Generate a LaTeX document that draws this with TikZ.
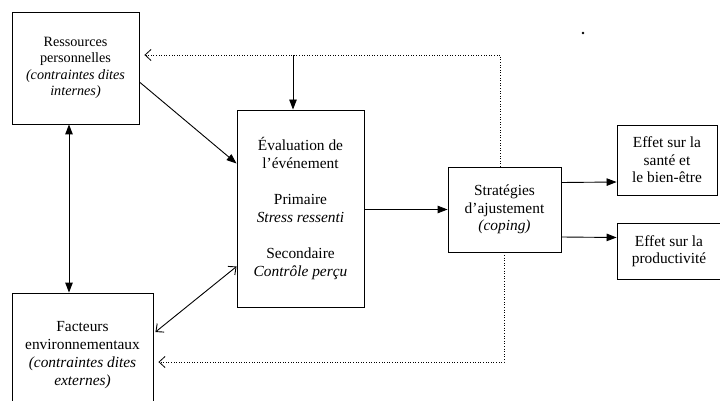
\documentclass[tikz,border=0pt]{standalone}
\usepackage{fontspec}
\setmainfont{Liberation Serif}
\usetikzlibrary{arrows.meta,calc}
\begin{document}
\begin{tikzpicture}[x=1pt,y=-1pt,
  box/.style={draw,line width=0.9pt,inner sep=0pt,align=center,font=\fontsize{15.4}{18}\selectfont},
  solid arrow/.style={line width=0.9pt,-{Triangle[length=10pt,width=7.5pt]}},
  dotline/.style={line width=0.6pt,dotted,-{Straight Barb[length=6pt,width=11pt,line width=0.8pt]}}]
\useasboundingbox (0,0) rectangle (720,401);
\clip (0,0) rectangle (720,401);
\node[box,minimum width=127pt,minimum height=112pt,font=\fontsize{14.2}{16.4}\selectfont] (res) at (75.5,68)
  {Ressources\\personnelles\\\textit{(contraintes dites}\\\textit{internes)}};
\node[box,minimum width=127pt,minimum height=197pt] (eval) at (300.5,208.5)
  {Évaluation de\\l’événement\\[18pt]Primaire\\\textit{Stress ressenti}\\[18pt]Secondaire\\\textit{Contrôle perçu}};
\node[box,minimum width=141pt,minimum height=124pt] (fact) at (82.5,355)
  {Facteurs\\environnementaux\\\textit{(contraintes dites}\\\textit{externes)}};
\node[box,minimum width=113pt,minimum height=85pt,font=\fontsize{15.4}{17.5}\selectfont] (strat) at (504.5,209.5)
  {Stratégies\\d’ajustement\\\textit{(coping)}};
\node[box,minimum width=100pt,minimum height=70pt,font=\fontsize{15.4}{17.5}\selectfont] (sante) at (667,160)
  {Effet sur la\\santé et\\le bien-être};
\node[box,minimum width=104pt,minimum height=56pt,font=\fontsize{15.4}{17.5}\selectfont] (prod) at (669,251)
  {Effet sur la\\productivité};
% coordinates
\coordinate (vx) at (69,0);
\coordinate (tj) at (293,55);
% solid connectors
\draw[solid arrow] ([yshift=-14pt]res.east) -- ([yshift=45pt]eval.west);
\draw[line width=0.9pt,{Triangle[length=10pt,width=7.5pt]}-{Triangle[length=10pt,width=7.5pt]}] (res.south -| vx) -- (fact.north -| vx);
\draw[line width=0.9pt,{Straight Barb[length=6pt,width=11pt]}-{Straight Barb[length=6pt,width=11pt]}] ([xshift=2pt,yshift=23pt]fact.east) -- ([yshift=-58pt]eval.west);
\draw[solid arrow] (strat.west -| eval.east) -- (strat.west);
\draw[solid arrow] ([yshift=27pt]strat.east) -- ([yshift=-22pt]sante.west);
\draw[solid arrow] ([yshift=-27.5pt]strat.east) -- ([yshift=13.5pt]prod.west);
\draw[solid arrow] (tj) -- (tj |- eval.north);
% dotted feedback
\draw[dotline] ([xshift=-4.5pt]strat.north) |- ([xshift=5pt,yshift=13pt]res.east);
\draw[dotline] ([xshift=-0.5pt]strat.south) |- ([xshift=5pt,yshift=-7pt]fact.east);
% speck
\fill (583,33) circle (1.4pt);
\end{tikzpicture}
\end{document}
